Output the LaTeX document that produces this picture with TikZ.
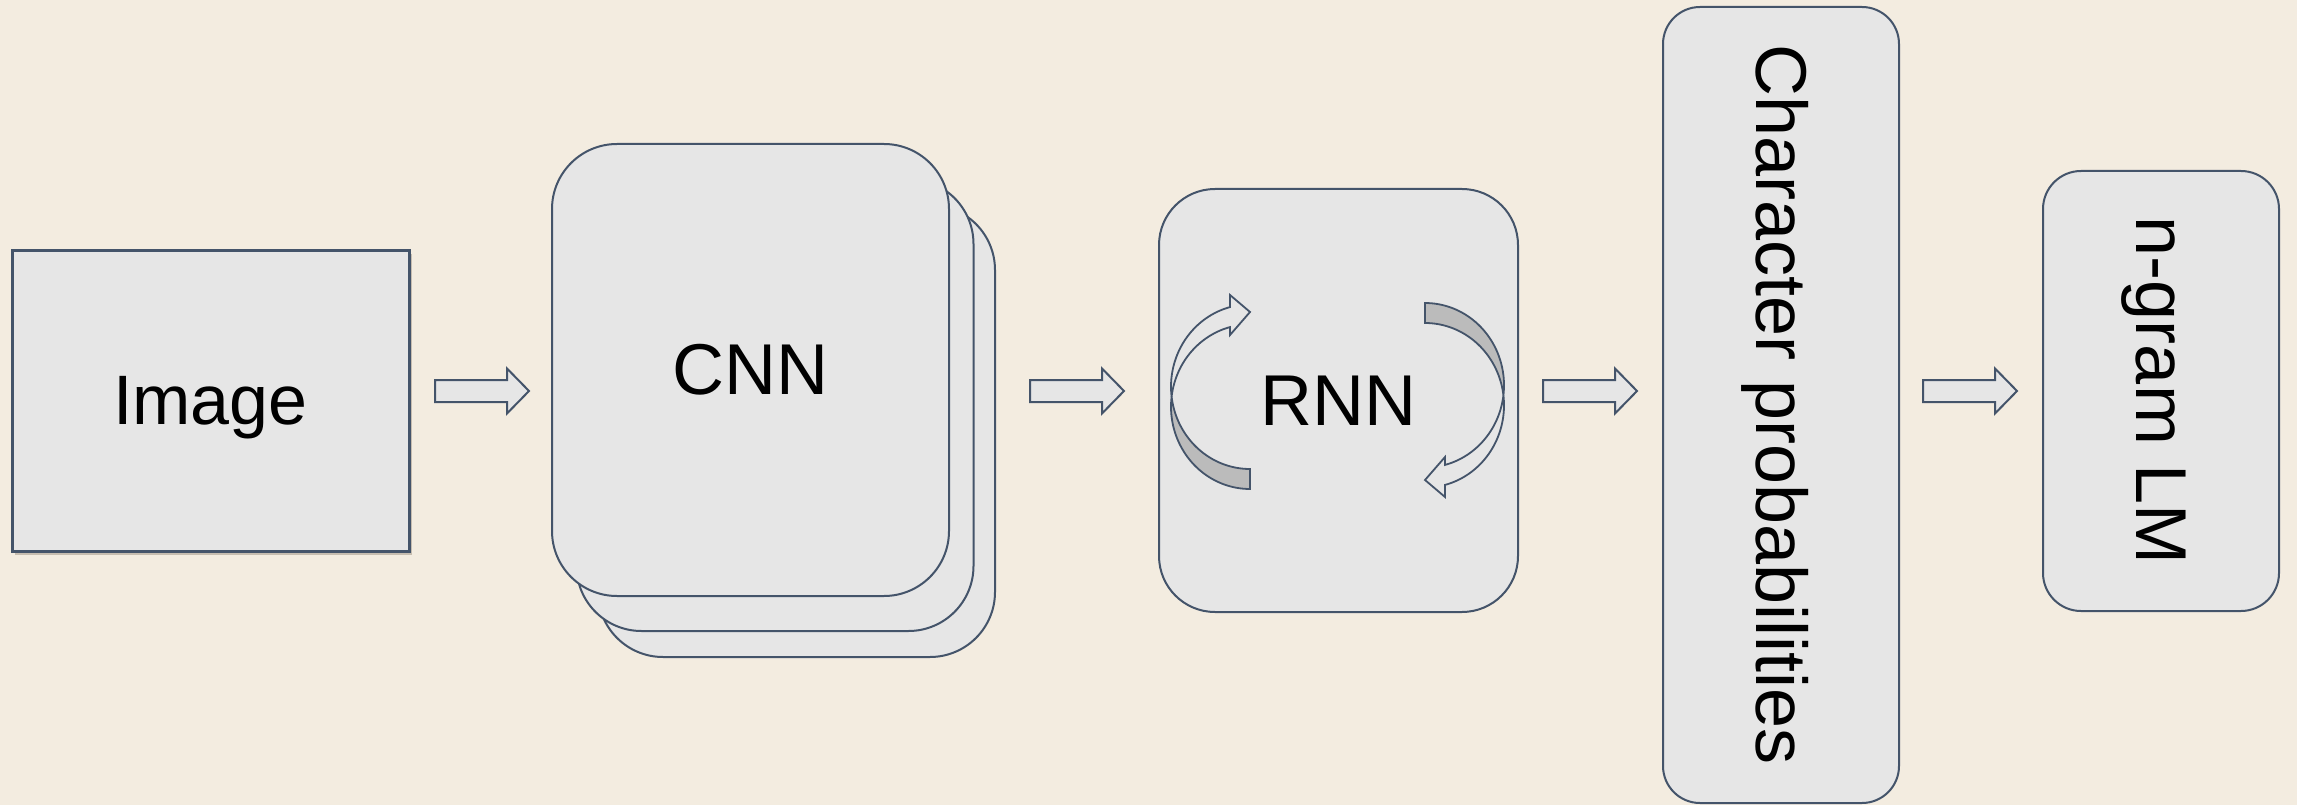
\documentclass[tikz,border=0pt]{standalone}
\usepackage{fontspec}
\setmainfont{Liberation Sans}
\usepackage{graphicx}
\usetikzlibrary{shadows}
\definecolor{bg}{HTML}{F3ECE0}
\definecolor{boxfill}{HTML}{E6E6E6}
\definecolor{edge}{HTML}{44546A}
\definecolor{band}{HTML}{BBBBBB}
\definecolor{shade}{HTML}{A89F90}
\newcommand\mystrut{\rule[-0.212em]{0pt}{1.117em}}
\newcommand\blockarrowat[1]{%
  \draw[arrowline] ([shift={(-47,-11)}]#1) -- ([shift={(25,-11)}]#1) -- ([shift={(25,-22.5)}]#1)
    -- ([shift={(47,0)}]#1) -- ([shift={(25,22.5)}]#1) -- ([shift={(25,11)}]#1)
    -- ([shift={(-47,11)}]#1) -- cycle;}
\newcommand\rnnloop{%
  \draw[loopband, fill=band]
    plot[domain=90:173.02, samples=40] ({1250+79*cos(\x)},{386.7+82.3*sin(\x)})
    -- plot[domain=186.98:90, samples=40] ({1250+79*cos(\x)},{406.7+82.3*sin(\x)}) -- cycle;
  \draw[loopband, fill=boxfill]
    plot[domain=173.02:255.33, samples=40] ({1250+79*cos(\x)},{386.7+82.3*sin(\x)})
    -- (1230,295) -- (1250,312) -- (1230,335)
    -- plot[domain=255.33:186.98, samples=40] ({1250+79*cos(\x)},{406.7+82.3*sin(\x)}) -- cycle;}
\begin{document}
\begin{tikzpicture}[x=1pt,y=-1pt,
  every node/.style={inner sep=0pt, outer sep=0pt},
  card/.style={draw=edge, line width=2pt, fill=boxfill, rectangle,
    font=\fontsize{72}{86}\selectfont},
  arrowline/.style={draw=edge, line width=2pt, fill=boxfill, line join=miter},
  loopband/.style={draw=edge, line width=1.8pt, line join=miter},
]
\fill[bg] (0,0) rectangle (2297,805);
\useasboundingbox (0,0) rectangle (2297,805);

% Image
\node[card, line width=3pt, font=\fontsize{70}{84}\selectfont,
  drop shadow={shadow xshift=3pt, shadow yshift=-3.5pt, fill=shade, opacity=0.6},
  minimum width=397pt, minimum height=301pt] (img) at (210.5,400.5) {\mystrut Image};

% CNN stack
\node[card, rounded corners=65pt, minimum width=397pt, minimum height=452pt] (cnn3) at (796.5,431) {};
\node[card, rounded corners=65pt, minimum width=397pt, minimum height=452pt] (cnn2) at (775,405) {};
\node[card, rounded corners=65pt, minimum width=397pt, minimum height=452pt] (cnn1) at (750.5,370) {\mystrut CNN};

% RNN
\node[card, rounded corners=56pt, minimum width=359pt, minimum height=423pt] (rnn) at (1338.5,400.5) {\mystrut RNN};
\rnnloop
\begin{scope}[rotate around={180:(1337.5,396)}]
  \rnnloop
\end{scope}

% Character probabilities
\node[card, rounded corners=37pt, minimum width=236pt, minimum height=796pt] (chr) at (1781,405)
  {\rotatebox{-90}{\mystrut Character probabilities}};

% n-gram LM
\node[card, rounded corners=38pt, minimum width=236pt, minimum height=440pt] (lm) at (2161,391)
  {\rotatebox{-90}{\mystrut n-gram LM}};

% block arrows
\coordinate (a1) at (482,391);
\coordinate (a2) at (1077,391);
\coordinate (a3) at (1590,391);
\coordinate (a4) at (1970,391);
\blockarrowat{a1}
\blockarrowat{a2}
\blockarrowat{a3}
\blockarrowat{a4}
\end{tikzpicture}
\end{document}
